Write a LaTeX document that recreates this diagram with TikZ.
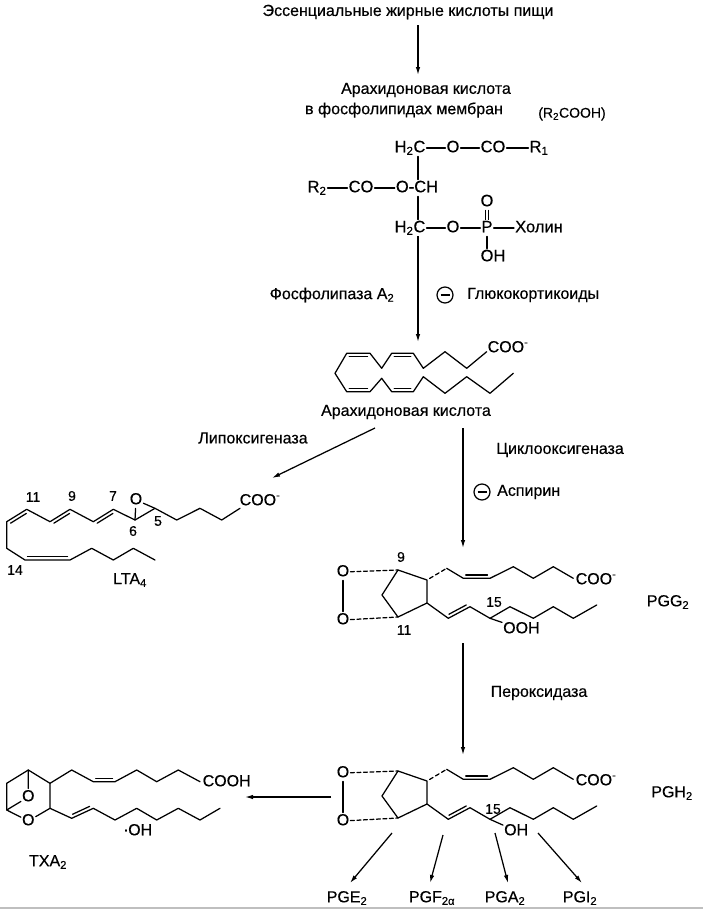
\documentclass[tikz,border=0pt]{standalone}
\usepackage{fontspec}
\setmainfont{Liberation Sans}[FakeBold=0.4]
\usetikzlibrary{calc,arrows.meta}

% inner line of a double bond: from, to, side angle
\newcommand{\innerbond}[3]{%
	\draw[bond, shorten <=2.5pt, shorten >=2.5pt]
	($(#1)!3.3pt!#3:(#2)$) -- ($(#2)!3.3pt!-#3:(#1)$);}

\begin{document}
\begin{tikzpicture}[x=1pt, y=-1pt,
	bond/.style={line width=1.25pt, line cap=round, line join=round},
	reac/.style={line width=1.25pt, -{Latex[length=8pt,width=4.5pt]}},
	txt/.style={inner sep=1pt, font=\fontsize{16}{19}\selectfont},
	small/.style={inner sep=1pt, font=\fontsize{14}{16}\selectfont},
	atom/.style={inner sep=1pt, text height=11.5pt, text depth=3pt, font=\fontsize{16}{18}\selectfont},
	gatom/.style={atom, font=\fontsize{16.5}{18}\selectfont},
	loc/.style={inner sep=0.5pt, font=\fontsize{14}{16}\selectfont},
	inhib/.style={circle, draw, line width=1.25pt, minimum size=16pt, inner sep=0pt,
		path picture={\draw[line width=1.25pt] ([xshift=3.5pt]path picture bounding box.west) -- ([xshift=-3.5pt]path picture bounding box.east);}}]

	\useasboundingbox (0,0) rectangle (703,913);

	% ---- food and membrane

	\node[txt] (food) at (408,12) {Эссенциальные жирные кислоты пищи};
	\coordinate (f1) at (418,25);
	\coordinate (f2) at (418,75);
	\draw[reac] (f1) -- (f2);

	\node[txt] (aamem) at (426,90) {Арахидоновая кислота};
	\node[txt] (mem) at (404,110) {в фосфолипидах мембран};
	\node[small] (r2cooh) at (572,114) {(R\textsubscript{2}COOH)};

	% ---- phospholipid

	\coordinate (sp) at (418,0);
	\node[gatom] (h2c1) at (410,148) {H\textsubscript{2}C};
	\node[gatom] (o1) at (453,148) {O};
	\node[gatom] (co1) at (493,148) {CO};
	\node[gatom] (r1) at (539,148) {R\textsubscript{1}};
	\node[gatom] (r2) at (317,188) {R\textsubscript{2}};
	\node[gatom] (co2) at (361,188) {CO};
	\node[gatom] (ch) at (417,188) {O-CH};
	\node[gatom] (h2c2) at (410,228) {H\textsubscript{2}C};
	\node[gatom] (o3) at (453,228) {O};
	\node[gatom] (p) at (487,228) {P};
	\node[gatom] (po) at (487,202) {O};
	\node[gatom] (poh) at (493,257) {OH};
	\node[gatom] (chol) at (539,228) {Холин};

	\draw[bond] (h2c1) -- (o1) -- (co1) -- (r1);
	\draw[bond] (r2) -- (co2) -- (ch);
	\draw[bond] (h2c2) -- (o3) -- (p) -- (chol);
	\draw[bond] (h2c1.south -| sp) -- (ch.north -| sp);
	\draw[bond] (ch.south -| sp) -- (h2c2.north -| sp);
	\draw[bond] ([xshift=-1.8pt]po.south) -- ([xshift=-1.8pt]p.north);
	\draw[bond] ([xshift=1.8pt]po.south) -- ([xshift=1.8pt]p.north);
	\draw[bond] (p.south) -- (poh.north -| p.south);

	\coordinate (aatip) at (418,342);
	\draw[reac] (h2c2.south -| sp) -- (aatip);
	\node[txt] (pla2) at (332,295) {Фосфолипаза A\textsubscript{2}};
	\node[inhib] (inh1) at (445,295) {};
	\node[txt, anchor=west] (gluco) at (466,295) {Глюкокортикоиды};

	% ---- arachidonic acid

	\foreach \n/\x/\y in {1/486.7/351.7, 2/466.7/368.3, 3/445/351.7, 4/423.3/368.3,
		5/413.3/353.3, 6/391.7/353.3, 7/381.7/368.3, 8/370/353.3, 9/346.7/353.3,
		10/335/373.3, 11/346.7/391.7, 12/370/391.7, 13/381.7/378.3, 14/391.7/391.7,
		15/413.3/391.7, 16/423.3/376.7, 17/445/393.3, 18/466.7/376.7, 19/490/393.3,
		20/513.3/373.3} {
		\coordinate (A\n) at (\x,\y);
	}
	\draw[bond] (A1) \foreach \i in {2,...,20} { -- (A\i) };
	\innerbond{A9}{A8}{-90}
	\innerbond{A6}{A5}{-90}
	\innerbond{A11}{A12}{90}
	\innerbond{A14}{A15}{90}
	\node[atom, anchor=west, inner sep=0.5pt] (aacoo) at (487,348) {COO\textsuperscript{-}};
	\node[txt] (aa) at (406,412) {Арахидоновая кислота};

	% ---- branches

	\coordinate (lox1) at (375,428);
	\coordinate (lox2) at (272,478);
	\draw[reac] (lox1) -- (lox2);
	\node[txt] (lox) at (253,438) {Липоксигеназа};

	\coordinate (cox1) at (463,428);
	\coordinate (cox2) at (463,548);
	\draw[reac] (cox1) -- (cox2);
	\node[txt] (cox) at (560,450) {Циклооксигеназа};
	\node[inhib] (inh2) at (482,492) {};
	\node[txt, anchor=west] (asp) at (496,492) {Аспирин};

	% ---- LTA4

	\foreach \n/\x/\y in {1/6.7/521.7, 2/26.7/509.3, 3/50/521.7, 4/70/509.3, 5/93.3/521.7,
		6/113.3/509.3, 7/135/520, 8/155/508.3, 9/176.7/520, 10/200/508.3,
		11/221.7/520, 12/240/508.3} {
		\coordinate (L\n) at (\x,\y);
	}
	\foreach \n/\x/\y in {1/6.7/548.3, 2/25/560, 3/70/560, 4/91.7/548.3, 5/113.3/560,
		6/133.3/548.3, 7/155/560} {
		\coordinate (M\n) at (\x,\y);
	}
	\draw[bond] (M7) -- (M6) -- (M5) -- (M4) -- (M3) -- (M2) -- (M1) -- (L1)
		\foreach \i in {2,...,12} { -- (L\i) };
	\innerbond{L1}{L2}{-90}
	\innerbond{L3}{L4}{-90}
	\innerbond{L5}{L6}{-90}
	\innerbond{M2}{M3}{90}

	\node[atom] (epo) at (136,500) {O};
	\draw[bond] (L7) -- (epo) -- (L8);
	\node[atom, anchor=west, inner sep=0.5pt] (ltacoo) at (239,501) {COO\textsuperscript{-}};

	\node[loc] (l11) at (33,497) {11};
	\node[loc] (l9) at (72,496) {9};
	\node[loc] (l7) at (113,496) {7};
	\node[loc] (l6) at (133,531) {6};
	\node[loc] (l5) at (158,521) {5};
	\node[loc] (l14) at (15,570) {14};
	\node[txt] (lta) at (130,580) {LTA\textsubscript{4}};

	% ---- PGG2 and PGH2

	\foreach \pg/\dy in {G/0, H/201} {
		\begin{scope}[shift={(0,\dy)}]
			\node[atom] (\pg ot) at (343,572) {O};
			\node[atom] (\pg ob) at (343,620) {O};
			\foreach \n/\x/\y in {9/398/570, 8/427/580, 12/427/603, 11/398/617, 10/382/595,
				7/446.7/568.3, 6/463.3/578.3, 5/490/578.3, 4/513.3/566.7, 3/533.3/578.3,
				2/553.3/566.7, 1/573.3/578.3, 13/448.3/618.3, 14/470/606.7, 15/490/618.3,
				16/510/606.7, 17/533.3/618.3, 18/553.3/606.7, 19/573.3/618.3, 20/596.7/605} {
				\coordinate (\pg\n) at (\x,\y);
			}
			\draw[bond] (\pg ot) -- (\pg ob);
			\draw[bond, dash pattern=on 4pt off 2.5pt] (\pg ot) -- (\pg9);
			\draw[bond, dash pattern=on 4pt off 2.5pt] (\pg ob) -- (\pg11);
			\draw[bond] (\pg9) -- (\pg8) -- (\pg12) -- (\pg11) -- (\pg10) -- cycle;
			\draw[bond, dash pattern=on 4pt off 3pt, shorten <=3pt] (\pg8) -- (\pg7);
			\draw[bond] (\pg7) -- (\pg6) -- (\pg5) -- (\pg4) -- (\pg3) -- (\pg2) -- (\pg1);
			\draw[bond] (\pg12) \foreach \i in {13,...,20} { -- (\pg\i) };
			\innerbond{\pg6}{\pg5}{90}
			\innerbond{\pg13}{\pg14}{90}
			\node[atom, anchor=west, inner sep=0.5pt] (\pg coo) at (575,580) {COO\textsuperscript{-}};
		\end{scope}
	}

	\node[loc] (g9) at (401,557) {9};
	\node[loc] (g11) at (404,630) {11};
	\node[loc] (g15) at (494,602) {15};
	\node[atom, anchor=west] (gooh) at (502,629) {OOH};
	\draw[bond] (G15) -- (gooh);
	\node[txt] (pgg) at (668,602) {PGG\textsubscript{2}};

	\coordinate (per1) at (463,643);
	\coordinate (per2) at (463,755);
	\draw[reac] (per1) -- (per2);
	\node[txt] (perox) at (539,693) {Пероксидаза};

	\node[loc] (h15) at (493,809) {15};
	\node[atom, anchor=west] (hoh) at (503,831) {OH};
	\draw[bond] (H15) -- (hoh);
	\node[txt] (pgh) at (672,793) {PGH\textsubscript{2}};

	% ---- TXA2

	\coordinate (tx1) at (331,797);
	\coordinate (tx2) at (245,797);
	\draw[reac] (tx1) -- (tx2);

	\node[atom] (to1) at (28.3,797) {O};
	\node[atom] (to2) at (28.3,821) {O};
	\foreach \n/\x/\y in {a/6.7/783.3, b/28.3/770, c/50/783.3, d/50/808.3, e/6.7/810} {
		\coordinate (X\n) at (\x,\y);
	}
	\draw[bond] (Xe) -- (Xa) -- (Xb) -- (Xc) -- (Xd) -- (to2) -- (Xe);
	\draw[bond] (Xb) -- (to1) -- (Xe);

	\foreach \n/\x/\y in {1/71.7/770, 2/93.3/781.7, 3/115/781.7, 4/136.7/770,
		5/156.7/781.7, 6/178.3/770, 7/200/781.7} {
		\coordinate (U\n) at (\x,\y);
	}
	\foreach \n/\x/\y in {1/71.7/818.3, 2/93.3/808.3, 3/115/820, 4/136.7/808.3,
		5/156.7/820, 6/178.3/808.3, 7/200/820, 8/220/808.3} {
		\coordinate (V\n) at (\x,\y);
	}
	\draw[bond] (Xc) \foreach \i in {1,...,7} { -- (U\i) };
	\draw[bond] (Xd) \foreach \i in {1,...,8} { -- (V\i) };
	\innerbond{U2}{U3}{90}
	\innerbond{V1}{V2}{90}
	\node[atom, anchor=west, inner sep=0.5pt] (txcooh) at (202,782) {COOH};
	\node[atom] (txoh) at (138,831) {\raisebox{4pt}{.}OH};
	\node[txt] (txa) at (48,862) {TXA\textsubscript{2}};

	% ---- products of PGH2

	\foreach \i/\sx/\sy/\ex/\ey in {1/392/833/350/883, 2/443/835/430/883,
		3/495/833/508/883, 4/538/833/582/883} {
		\coordinate (s\i) at (\sx,\sy);
		\coordinate (e\i) at (\ex,\ey);
		\draw[reac] (s\i) -- (e\i);
	}
	\node[txt] (pge) at (347,898) {PGE\textsubscript{2}};
	\node[txt] (pgf) at (432,898) {PGF\textsubscript{2α}};
	\node[txt] (pga) at (505,898) {PGA\textsubscript{2}};
	\node[txt] (pgi) at (580,898) {PGI\textsubscript{2}};

	\draw[gray!50, line width=1.5pt] (0,908) -- (703,908);

\end{tikzpicture}
\end{document}
